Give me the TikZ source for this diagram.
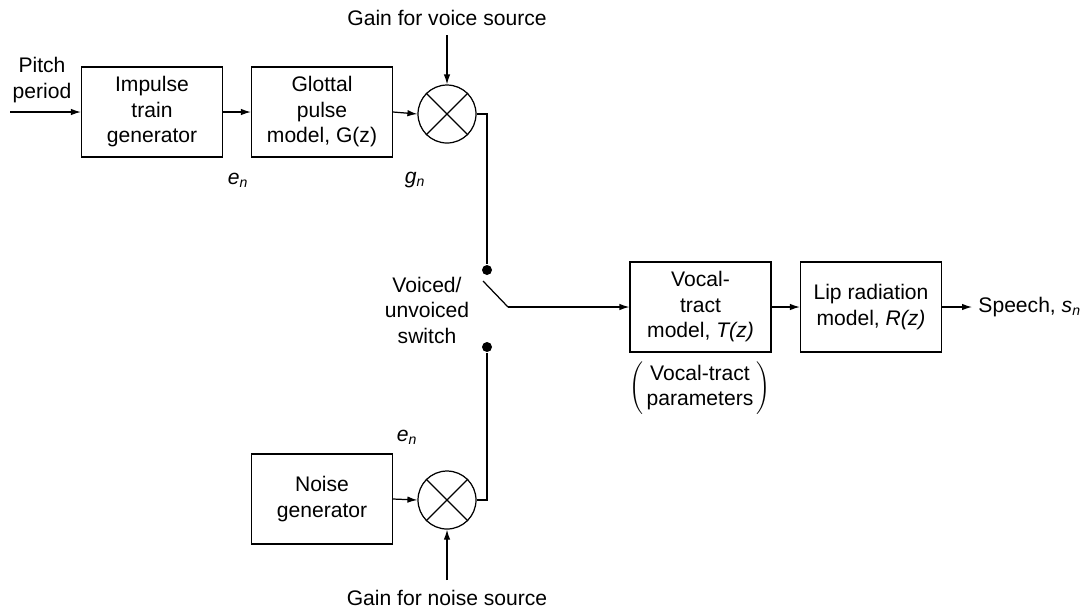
\documentclass[tikz,border=0pt]{standalone}
\usepackage{fontspec}
\setmainfont{Liberation Sans}
\usetikzlibrary{arrows.meta,positioning}

\begin{document}
\begin{tikzpicture}[x=0.02cm, y=-0.02cm, font=\fontsize{12}{14.5}\selectfont, line width=0.7pt,
    block/.style={draw, minimum width=2.82cm, minimum height=1.8cm, align=center, inner sep=0pt},
    mult/.style={draw, circle, minimum size=1.16cm, inner sep=0pt},
    contact/.style={circle, fill, minimum size=0.2cm, inner sep=0pt},
    sig/.style={-{Latex[length=2mm, width=1.3mm]}}]
        \useasboundingbox (0,0) rectangle (1087,610);

        % Voiced branch
        \node[align=center] (pitch) at (42,80) {Pitch\\period};
        \coordinate (pin) at (10,112);
        \node[block] (impulse) at (152,112) {Impulse\\train\\generator};
        \node[block] (glottal) at (322,112) {Glottal\\pulse\\model, G(z)};
        \node[mult] (mixv) at (447,114) {};
        \node (gainv) at (447,18) {Gain for voice source};
        \coordinate (gvtop) at (447,35);
        \node (en1) at (238,180) {\textit{e\textsubscript{n}}};
        \node (gn) at (415,180) {\textit{g\textsubscript{n}}};

        % Unvoiced branch
        \node[block] (noise) at (322,499) {Noise\\generator};
        \node[mult] (mixn) at (447,500) {};
        \node (gainn) at (447,598) {Gain for noise source};
        \coordinate (gnbot) at (447,580);
        \node (en2) at (407,437) {\textit{e\textsubscript{n}}};

        % Switch
        \node[contact] (dotv) at (487,270) {};
        \node[contact] (dotn) at (487,347) {};
        \coordinate (armtip) at (483,281);
        \coordinate (armend) at (508,307);
        \node[align=center] (vswitch) at (427,310) {Voiced/\\unvoiced\\switch};

        % Vocal tract and lips
        \node[block] (tract) at (700.5,307) {Vocal-\\tract\\model, \textit{T(z)}};
        \node[block] (lip) at (871,307) {Lip radiation\\model, \textit{R(z)}};
        \node (params) at (700,388) {$\left(\begin{tabular}{@{\,}c@{\,}}Vocal-tract\\parameters\end{tabular}\right)$};
        \node[anchor=west] (speech) at (972,307) {Speech, \textit{s\textsubscript{n}}};

        % Connections
        \draw[sig] (pin) -- (impulse.west);
        \draw[sig] (impulse) -- (glottal);
        \draw[sig] (glottal.east) -- (mixv.west);
        \draw[sig] (gvtop) -- (mixv.north);
        \draw (mixv.north west) -- (mixv.south east) (mixv.north east) -- (mixv.south west);
        \draw (mixv.east) -| (dotv);

        \draw[sig] (noise.east) -- (mixn.west);
        \draw[sig] (gnbot) -- (mixn.south);
        \draw (mixn.north west) -- (mixn.south east) (mixn.north east) -- (mixn.south west);
        \draw (mixn.east) -| (dotn);

        \draw (armtip) -- (armend);
        \draw[sig] (armend) -- (tract.west);
        \draw[sig] (tract) -- (lip);
        \draw[sig] (lip) -- (speech);

    \end{tikzpicture}
\end{document}
